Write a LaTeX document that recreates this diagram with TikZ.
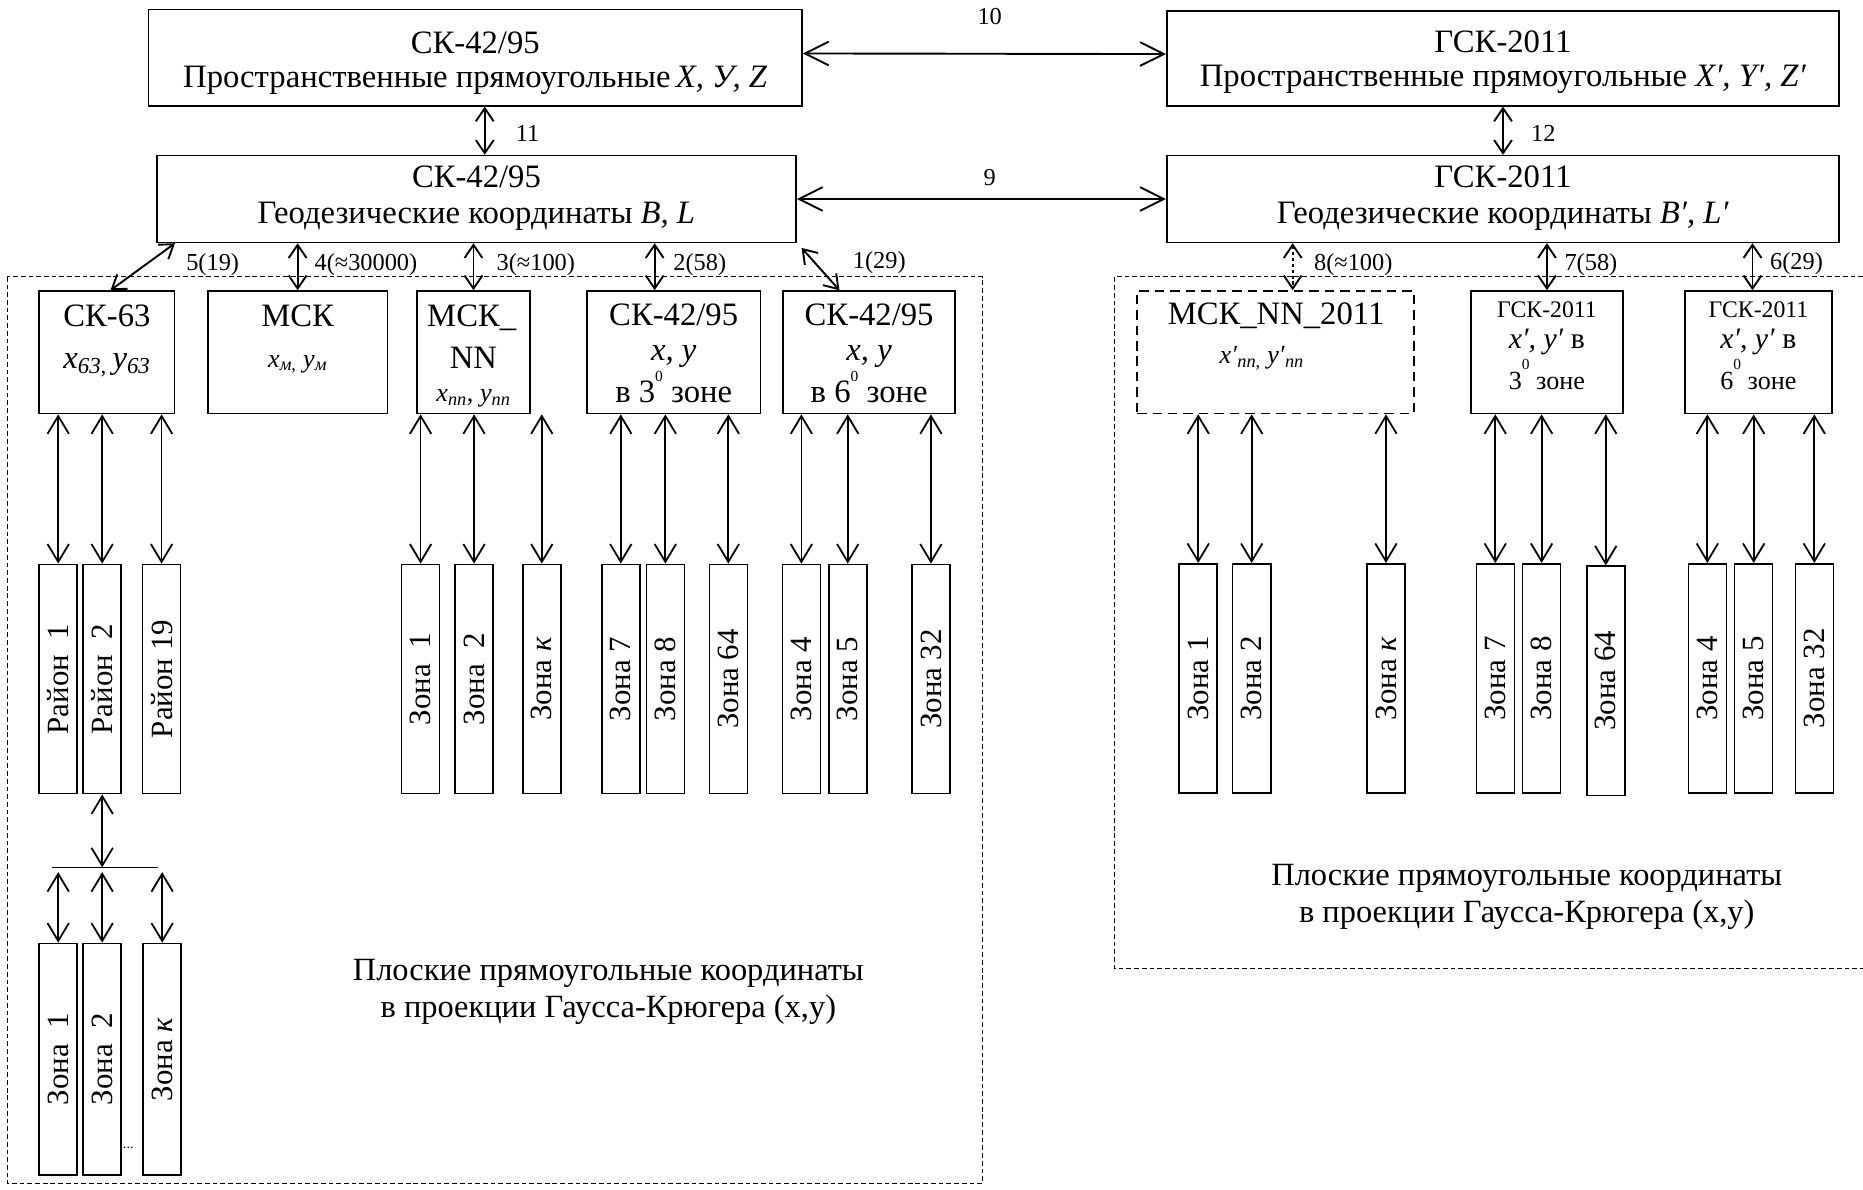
\documentclass[tikz,border=0pt]{standalone}
\usepackage{fontspec}
\setmainfont{Liberation Serif}
\usepackage{graphicx}
\usetikzlibrary{arrows.meta}

\tikzset{
  frame/.style={draw, line width=1.4pt, inner sep=0pt},
  zonebox/.style={draw, line width=1.3pt, inner sep=0pt, minimum width=32pt,
    minimum height=193pt, font=\fontsize{26}{26}\selectfont},
  T/.style={anchor=base, inner sep=0pt, font=\fontsize{27.5}{30}\selectfont},
  M/.style={anchor=base, inner sep=0pt, font=\fontsize{25}{28}\selectfont},
  S/.style={anchor=base, inner sep=0pt, font=\fontsize{22}{24}\selectfont},
  G/.style={anchor=base, inner sep=0pt, font=\fontsize{20}{22}\selectfont},
  lab/.style={anchor=base, inner sep=0pt, font=\fontsize{20.5}{24}\selectfont},
  biga/.style={line width=1.6pt,
    {Straight Barb[length=20pt,width=20pt]}-{Straight Barb[length=20pt,width=20pt]}},
  smalla/.style={line width=1.6pt,
    {Straight Barb[length=11pt,width=15pt]}-{Straight Barb[length=11pt,width=15pt]}},
  zarr/.style={line width=1.5pt,
    {Straight Barb[length=15pt,width=18pt]}-{Straight Barb[length=15pt,width=18pt]}},
  region/.style={line width=1pt, dash pattern=on 4pt off 2.5pt},
}

% a digit followed by a raised small zero (degree mark)
\newcommand{\zdeg}[2]{#1\raisebox{#2}{\fontsize{13}{13}\selectfont 0}}

\begin{document}
\begin{tikzpicture}[x=1pt,y=-1pt]
\fill[white] (0,0) rectangle (1568,1001);
\useasboundingbox (0,0) rectangle (1568,1001);

% ---- dashed regions of plane coordinates
\draw[region] (6,233) rectangle (827,996);
\draw[region] (1568,233) -- (938,233) -- (938,815) -- (1568,815);

% ---- upper blocks
\node[frame, minimum width=550pt, minimum height=81pt] (A) at (400,48.5) {};
\node[frame, minimum width=566pt, minimum height=80pt] (B) at (1265,49) {};
\node[frame, minimum width=538pt, minimum height=73pt] (C) at (401,167.5) {};
\node[frame, minimum width=566pt, minimum height=73pt] (D) at (1265,167.5) {};

\node[T] (At1) at (400,45) {СК-42/95};
\node[T] (At2) at (400,74) {Пространственные прямоугольные\,\textit{X, У, Z}};
\node[T] (Bt1) at (1265,44) {ГСК-2011};
\node[T] (Bt2) at (1265,73) {Пространственные прямоугольные \textit{X′, Y′, Z′}};
\node[T] (Ct1) at (401,158) {СК-42/95};
\node[T] (Ct2) at (401,188) {Геодезические координаты \textit{B, L}};
\node[T] (Dt1) at (1265,158) {ГСК-2011};
\node[T] (Dt2) at (1265,188) {Геодезические координаты \textit{B′, L′}};

\draw[biga] ([yshift=3.5pt]A.east) -- ([yshift=3.5pt]B.west);
\node[lab] (l10) at (833,21) {10};
\draw[biga] (C.east) -- (D.west);
\node[lab] (l9) at (833,156) {9};
\draw[smalla] ([xshift=8pt]A.south) -- ([xshift=7pt]C.north);
\node[lab] (l11) at (444,119) {11};
\draw[smalla] (B.south) -- (D.north);
\node[lab] (l12) at (1299,119) {12};

% ---- systems of plane coordinates
\node[frame, minimum width=114pt, minimum height=103pt] (sk63) at (90,296.5) {};
\node[frame, minimum width=151pt, minimum height=103pt] (msk) at (250.5,296.5) {};
\node[frame, minimum width=95pt, minimum height=103pt] (msknn) at (398.5,296.5) {};
\node[frame, minimum width=146pt, minimum height=103pt] (sk3) at (567,296.5) {};
\node[frame, minimum width=145pt, minimum height=103pt] (sk6) at (731.5,296.5) {};
\node[frame, dash pattern=on 8pt off 5pt, minimum width=233pt, minimum height=103pt] (msk11) at (1073.5,296.5) {};
\node[frame, minimum width=128pt, minimum height=103pt] (gsk3) at (1302,296.5) {};
\node[frame, minimum width=124pt, minimum height=103pt] (gsk6) at (1480,296.5) {};

\node[T] (sk63a) at (90,275) {СК-63};
\node[T] (sk63b) at (90,310) {\textit{x}\textsubscript{\textit{63},}\,\textit{y}\textsubscript{\textit{63}}};
\node[T] (mska) at (250.5,275) {МСК};
\node[S] (mskb) at (250.5,309) {\textit{x}\textsubscript{\textit{м},} \textit{y}\textsubscript{\textit{м}}};
\node[T] (msknna) at (397,275) {МСК\_};
\node[T] (msknnb) at (398.5,310) {NN};
\node[S] (msknnc) at (398.5,338) {\textit{x}\textsubscript{\textit{nn}}, \textit{y}\textsubscript{\textit{nn}}};
\node[T] (sk3a) at (567,274) {СК-42/95};
\node[T] (sk3b) at (567,303) {\textit{x, y}};
\node[T] (sk3c) at (567,339) {в \zdeg{3}{17.5pt} зоне};
\node[T] (sk6a) at (731.5,274) {СК-42/95};
\node[T] (sk6b) at (731.5,303) {\textit{x, y}};
\node[T] (sk6c) at (731.5,339) {в \zdeg{6}{17.5pt} зоне};
\node[T] (msk11a) at (1074,273) {МСК\_NN\_2011};
\node[S] (msk11b) at (1062,306) {\textit{x′}\textsubscript{\textit{nn},} \textit{y′}\textsubscript{\textit{nn}}};
\node[G] (gsk3a) at (1302,267) {ГСК-2011};
\node[M] (gsk3b) at (1302,293) {\textit{x′, y′} в};
\node[S] (gsk3c) at (1302,328) {\zdeg{3}{17pt} зоне};
\node[G] (gsk6a) at (1480,267) {ГСК-2011};
\node[M] (gsk6b) at (1480,293) {\textit{x′, y′} в};
\node[S] (gsk6c) at (1480,328) {\zdeg{6}{17pt} зоне};

% ---- links from geodetic coordinates
\draw[smalla] ([xshift=16pt]C.south west) -- ([xshift=3pt]sk63.north);
\draw[smalla] (C.south -| msk.north) -- (msk.north);
\draw[smalla] (C.south -| msknn.north) -- (msknn.north);
\coordinate (p2) at ([xshift=-16pt]sk3.north);
\draw[smalla] (C.south -| p2) -- (p2);
\draw[smalla] ([xshift=4pt,yshift=-4pt]C.south east) -- ([xshift=-25pt]sk6.north);
\node[lab] (l5) at (179,228) {5(19)};
\node[lab] (l4) at (308,228) {4(≈30000)};
\node[lab] (l3) at (451,228) {3(≈100)};
\node[lab] (l2) at (589,228) {2(58)};
\node[lab] (l1) at (740,226) {1(29)};

\coordinate (p8) at ([xshift=14.5pt]msk11.north);
\draw[smalla, dash pattern=on 3pt off 2pt] (D.south -| p8) -- (p8);
\draw[smalla] (D.south -| gsk3.north) -- (gsk3.north);
\coordinate (p6) at ([xshift=-5pt]gsk6.north);
\draw[smalla] (D.south -| p6) -- (p6);
\node[lab] (l8) at (1139,228) {8(≈100)};
\node[lab] (l7) at (1339,228) {7(58)};
\node[lab] (l6) at (1512,227) {6(29)};

% ---- zones, left group
\foreach \n/\x/\t in {r1/49/Район\ \ 1, r2/86/Район\ \ 2, r19/136/Район 19,
    mz1/354/Зона\ \ 1, mz2/399/Зона\ \ 2, mzk/456/Зона \textit{к},
    z7/522.5/Зона 7, z8/560/Зона 8, z64/613/Зона 64,
    z4/674.5/Зона 4, z5/713.5/Зона 5, z32/783.5/Зона 32}
  \node[zonebox] (\n) at (\x,571.5) {\rotatebox{90}{\t}};

\foreach \s/\n in {sk63/r1, sk63/r2, sk63/r19, msknn/mz1, msknn/mz2, msknn/mzk,
    sk3/z7, sk3/z8, sk3/z64, sk6/z4, sk6/z5, sk6/z32}
  \draw[zarr] (\s.south -| \n.north) -- (\n.north);

% ---- zones, right group
\foreach \n/\x/\t in {rz1/1008.5/Зона 1, rz2/1053.5/Зона 2, rzk/1166.5/Зона \textit{к},
    rz7/1258.5/Зона 7, rz8/1297.5/Зона 8,
    rz4/1437/Зона 4, rz5/1476/Зона 5, rz32/1527/Зона 32}
  \node[zonebox] (\n) at (\x,571) {\rotatebox{90}{\t}};
\node[zonebox] (rz64) at (1351.5,573) {\rotatebox{90}{Зона 64}};

\foreach \s/\n in {msk11/rz1, msk11/rz2, msk11/rzk, gsk3/rz7, gsk3/rz8, gsk3/rz64,
    gsk6/rz4, gsk6/rz5, gsk6/rz32}
  \draw[zarr] (\s.south -| \n.north) -- (\n.north);

% ---- zones of the district 2
\coordinate (barL) at (44,730);
\coordinate (barR) at (133,730);
\coordinate (barB) at (0,734);
\draw[line width=1.3pt] (barL) -- (barR);
\draw[zarr] (r2.south) -- (r2.south |- barL);
\foreach \n/\x/\t in {bz1/49/Зона\ \ 1, bz2/86/Зона\ \ 2, bzk/136.5/Зона \textit{к}}
  \node[zonebox, minimum height=195pt] (\n) at (\x,891.5) {\rotatebox{90}{\t}};
\foreach \n in {bz1, bz2, bzk}
  \draw[zarr] (\n.north |- barB) -- (\n.north);
\node[inner sep=0pt, font=\fontsize{12}{12}\selectfont] (dots) at (108,966) {...};

% ---- captions
\node[align=center, inner sep=0pt, font=\fontsize{27.3}{31}\selectfont] (capL) at (512,835)
  {Плоские прямоугольные координаты\\в проекции Гаусса-Крюгера (x,y)};
\node[align=center, inner sep=0pt, font=\fontsize{27.3}{31}\selectfont] (capR) at (1285,755)
  {Плоские прямоугольные координаты\\в проекции Гаусса-Крюгера (x,y)};
\end{tikzpicture}
\end{document}
